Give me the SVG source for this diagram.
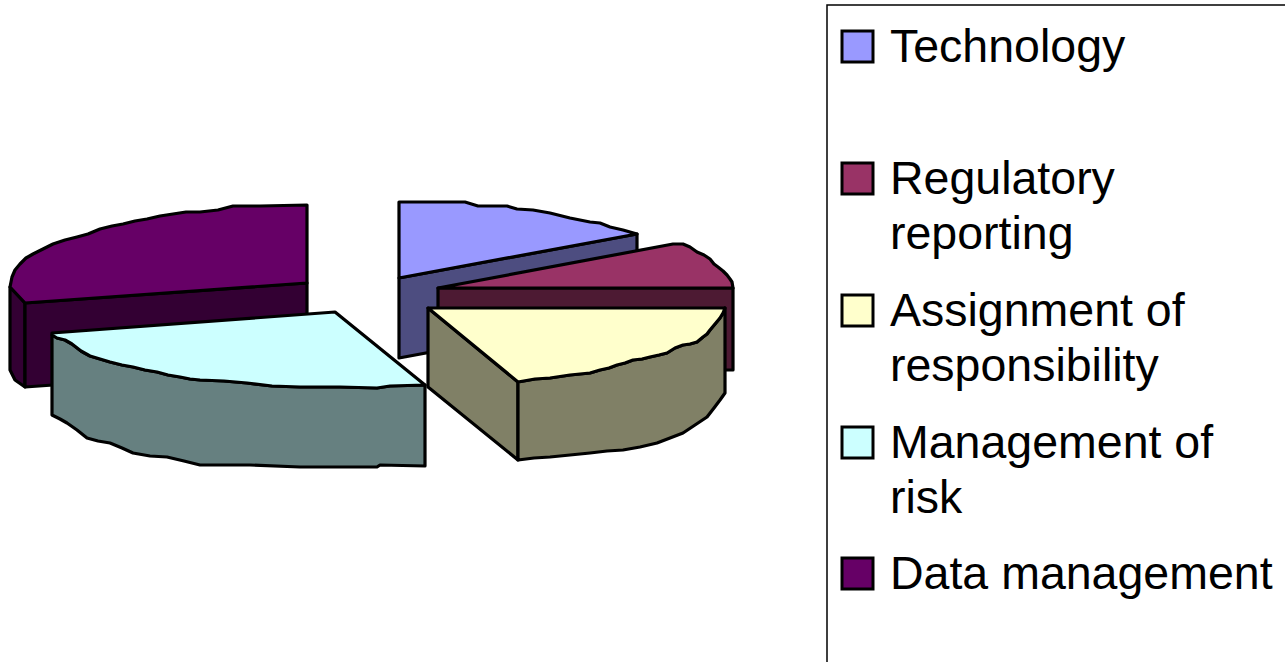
<svg xmlns="http://www.w3.org/2000/svg" width="1285" height="662" viewBox="0 0 1285 662">
<style>
.o{stroke:#000;stroke-width:3.2;stroke-linejoin:round;stroke-linecap:round}
.sw{stroke:#000;stroke-width:3}
.lt{font-family:"Liberation Sans",Arial,sans-serif;font-size:46.5px;fill:#000}
</style>
<rect width="1285" height="662" fill="#fff"/>
<g id="slice-data-management">
<polygon class="o" fill="#330033" points="10,287 25,303 25,387 15,380 10,370"/>
<polygon class="o" fill="#330033" points="25,303 307,283 307,367 25,387"/>
<polygon class="o" fill="#660066" points="307,205 260,206 233,206 218,210 200,212 186,212 173,214 160,216 147,219 135,221 123,224 112,226 100,229 88,234 77,237 65,240 53,244 43,249 33,254 26,258 20,264 15,270 12,277 10,287 25,303 307,283"/>
</g>
<g id="slice-technology">
<polygon class="o" fill="#4D4D80" points="399,278 637,234 637,314 399,358"/>
<polygon class="o" fill="#9999FF" points="399,202 465,202 478,206 507,206 517,209 533,210 550,213 570,218 590,222 600,223 610,227 623,230 637,234 399,278"/>
</g>
<g id="slice-regulatory-reporting">
<polygon class="o" fill="#4D1A33" points="438,288 733,288 733,370 438,370"/>
<polygon class="o" fill="#993366" points="438,288 673,244 683,244 690,247 697,252 704,255 710,259 714,264 718,267 723,271 727,275 730,279 732,282 733,288"/>
</g>
<g id="slice-management-of-risk">
<polygon class="o" fill="#668080" points="52,335 57,338 65,340 72,344 81,351 90,356 100,359 110,362 122,365 133,367 145,370 157,372 168,375 180,377 190,379 200,380 224,381 247,383 272,386 300,387 340,387 377,388 390,386 425,385 425,466 380,465 377,467 300,467 250,465 200,465 184,461 167,457 150,456 133,453 122,448 110,443 98,441 87,438 77,430 67,423 60,419 52,415"/>
<polygon class="o" fill="#CCFFFF" points="52,333 335,312 425,385 390,386 377,388 340,387 300,387 272,386 247,383 224,381 200,380 190,379 180,377 168,375 157,372 145,370 133,367 122,365 110,362 100,359 90,356 81,351 72,344 65,340 57,338 52,335"/>
</g>
<g id="slice-assignment-of-responsibility">
<polygon class="o" fill="#808066" points="428,308 518,382 518,460 428,387"/>
<polygon class="o" fill="#808066" points="518,382 535,379 550,378 570,375 590,373 600,370 609,368 617,365 625,363 633,360 642,359 650,357 659,355 667,353 675,348 683,345 690,344 697,342 703,337 707,334 710,330 715,324 720,318 723,313 725,308 725,393 720,400 714,408 707,417 695,425 683,433 670,438 657,443 640,447 623,450 607,451 590,453 570,455 550,457 534,458 518,460"/>
<polygon class="o" fill="#FFFFCC" points="428,308 725,308 723,313 720,318 715,324 710,330 707,334 703,337 697,342 690,344 683,345 675,348 667,353 659,355 650,357 642,359 633,360 625,363 617,365 609,368 600,370 590,373 570,375 550,378 535,379 518,382"/>
</g>
<g id="connectors"></g>
<g id="legend">
<rect x="827" y="5" width="480" height="680" fill="#fff" stroke="#000" stroke-width="1.5"/>
<g id="legend-technology">
<rect class="sw" x="842" y="31" width="31" height="31" fill="#9999FF"/>
<text class="lt" x="890" y="62">Technology</text>
</g>
<g id="legend-regulatory-reporting">
<rect class="sw" x="842" y="163" width="31" height="31" fill="#993366"/>
<text class="lt" x="890" y="194">Regulatory</text>
<text class="lt" x="890" y="249">reporting</text>
</g>
<g id="legend-assignment-of-responsibility">
<rect class="sw" x="842" y="295" width="31" height="31" fill="#FFFFCC"/>
<text class="lt" x="890" y="326">Assignment of</text>
<text class="lt" x="890" y="381">responsibility</text>
</g>
<g id="legend-management-of-risk">
<rect class="sw" x="842" y="427" width="31" height="31" fill="#CCFFFF"/>
<text class="lt" x="890" y="458">Management of</text>
<text class="lt" x="890" y="513">risk</text>
</g>
<g id="legend-data-management">
<rect class="sw" x="842" y="558" width="31" height="31" fill="#660066"/>
<text class="lt" x="890" y="589">Data management</text>
</g>
</g>
</svg>
